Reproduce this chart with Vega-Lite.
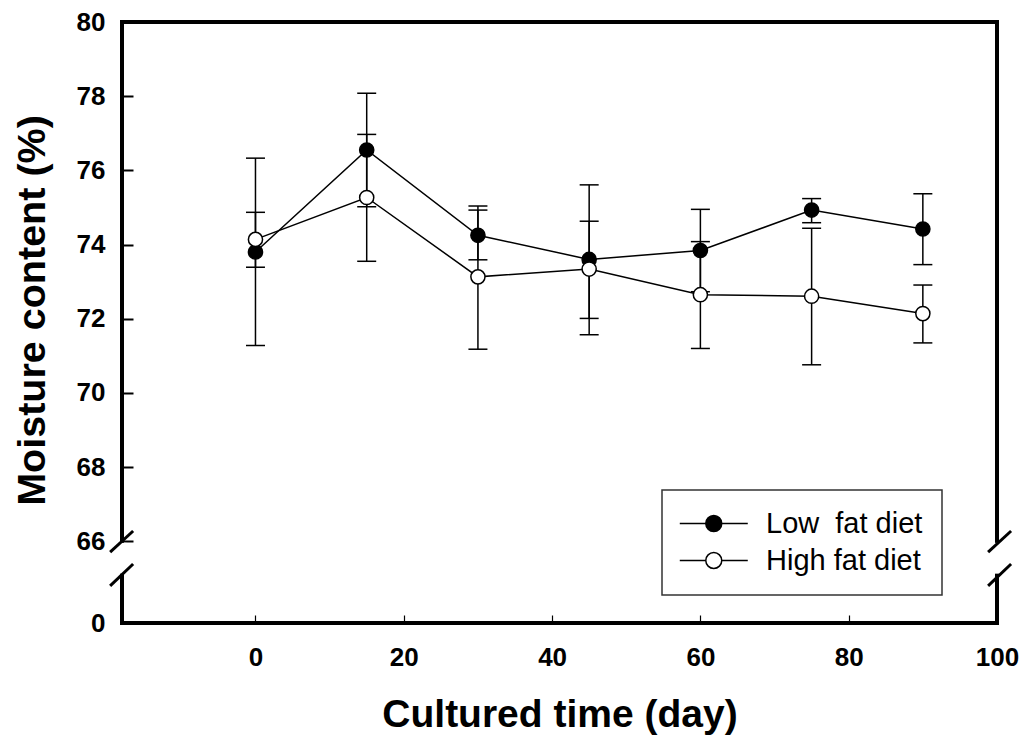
{
  "$schema": "https://vega.github.io/schema/vega-lite/v6.json",
  "autosize": "none",
  "width": 875,
  "height": 601,
  "padding": {"left": 122, "top": 22, "right": 32, "bottom": 117},
  "background": "white",
  "config": {
    "view": {"stroke": "black", "strokeWidth": 4},
    "font": "Liberation Sans",
    "legend": {
      "orient": "none",
      "legendX": 540,
      "legendY": 468,
      "strokeColor": "#333333",
      "strokeWidth": 1.5,
      "padding": 19,
      "fillColor": "white",
      "labelFont": "Liberation Sans",
      "labelFontSize": 29,
      "labelColor": "black",
      "labelOffset": 56,
      "symbolType": "M-1.85,0H1.21M3.09,0H6.15M1.21,0A0.94,0.94 0 1,0 3.09,0A0.94,0.94 0 1,0 1.21,0Z",
      "symbolSize": 289,
      "symbolStrokeColor": "black",
      "symbolStrokeWidth": 1.5,
      "rowPadding": 7
    }
  },
  "data": {
    "values": [
      {"day": 0, "diet": "Low\u00a0 fat diet", "mean": 73.80, "lo": 71.28, "hi": 76.33},
      {"day": 15, "diet": "Low\u00a0 fat diet", "mean": 76.55, "lo": 75.02, "hi": 78.08},
      {"day": 30, "diet": "Low\u00a0 fat diet", "mean": 74.25, "lo": 73.59, "hi": 74.93},
      {"day": 45, "diet": "Low\u00a0 fat diet", "mean": 73.60, "lo": 71.57, "hi": 75.61},
      {"day": 60, "diet": "Low\u00a0 fat diet", "mean": 73.84, "lo": 72.73, "hi": 74.95},
      {"day": 75, "diet": "Low\u00a0 fat diet", "mean": 74.93, "lo": 74.59, "hi": 75.24},
      {"day": 90, "diet": "Low\u00a0 fat diet", "mean": 74.42, "lo": 73.46, "hi": 75.37},
      {"day": 0, "diet": "High fat diet", "mean": 74.14, "lo": 73.39, "hi": 74.87},
      {"day": 15, "diet": "High fat diet", "mean": 75.27, "lo": 73.55, "hi": 76.97},
      {"day": 30, "diet": "High fat diet", "mean": 73.13, "lo": 71.18, "hi": 75.04},
      {"day": 45, "diet": "High fat diet", "mean": 73.34, "lo": 72.01, "hi": 74.63},
      {"day": 60, "diet": "High fat diet", "mean": 72.65, "lo": 71.20, "hi": 74.08},
      {"day": 75, "diet": "High fat diet", "mean": 72.61, "lo": 70.76, "hi": 74.44},
      {"day": 90, "diet": "High fat diet", "mean": 72.14, "lo": 71.35, "hi": 72.91}
    ]
  },
  "layer": [
    {
      "encoding": {
        "x": {
          "field": "day",
          "type": "quantitative",
          "scale": {"domain": [-18, 100], "nice": false, "zero": false},
          "axis": {
            "title": "Cultured time (day)",
            "titleFont": "Liberation Sans",
            "titleFontSize": 39,
            "titleFontWeight": "bold",
            "titleColor": "black",
            "titlePadding": 25,
            "values": [0, 20, 40, 60, 80, 100],
            "domain": false,
            "grid": false,
            "tickSize": -8,
            "tickWidth": 1.2,
            "tickColor": "black",
            "labelPadding": 29,
            "labelFont": "Liberation Sans",
            "labelFontSize": 26,
            "labelFontWeight": "bold",
            "labelColor": "black",
            "labelFlush": false
          }
        },
        "y": {
          "field": "mean",
          "type": "quantitative",
          "scale": {"domain": [63.8, 80], "nice": false, "zero": false},
          "axis": {
            "title": "Moisture content (%)",
            "titleFont": "Liberation Sans",
            "titleFontSize": 39.5,
            "titleFontWeight": "bold",
            "titleColor": "black",
            "titlePadding": 24,
            "titleY": 288,
            "values": [63.8, 66, 68, 70, 72, 74, 76, 78, 80],
            "labelExpr": "datum.value < 65 ? '0' : datum.label",
            "domain": false,
            "grid": false,
            "tickSize": -11,
            "tickWidth": 2,
            "tickColor": "black",
            "labelPadding": 28,
            "labelFont": "Liberation Sans",
            "labelFontSize": 26,
            "labelFontWeight": "bold",
            "labelColor": "black",
            "labelFlush": false
          }
        }
      },
      "layer": [
        {
          "mark": {"type": "rule", "color": "black", "strokeWidth": 1.5},
          "encoding": {"y": {"field": "lo", "type": "quantitative"}, "y2": {"field": "hi"}}
        },
        {
          "mark": {"type": "tick", "orient": "horizontal", "color": "black", "size": 19, "thickness": 1.5, "opacity": 1},
          "encoding": {"y": {"field": "lo", "type": "quantitative"}}
        },
        {
          "mark": {"type": "tick", "orient": "horizontal", "color": "black", "size": 19, "thickness": 1.5, "opacity": 1},
          "encoding": {"y": {"field": "hi", "type": "quantitative"}}
        },
        {
          "mark": {"type": "line", "color": "black", "strokeWidth": 1.5},
          "encoding": {"detail": {"field": "diet"}}
        },
        {
          "mark": {"type": "point", "filled": true, "shape": "circle", "size": 200, "stroke": "black", "strokeWidth": 1.5, "opacity": 1},
          "encoding": {
            "fill": {
              "field": "diet",
              "type": "nominal",
              "scale": {"domain": ["Low\u00a0 fat diet", "High fat diet"], "range": ["black", "white"]},
              "legend": {"title": null}
            }
          }
        }
      ]
    },
    {
      "data": {"values": [{}]},
      "mark": {"type": "rule", "color": "white", "strokeWidth": 9},
      "encoding": {
        "x": {"datum": -18, "type": "quantitative"},
        "y": {"datum": 65.96, "type": "quantitative"},
        "y2": {"datum": 65.13}
      }
    },
    {
      "data": {"values": [{}]},
      "mark": {"type": "rule", "color": "white", "strokeWidth": 9},
      "encoding": {
        "x": {"datum": 100, "type": "quantitative"},
        "y": {"datum": 65.96, "type": "quantitative"},
        "y2": {"datum": 65.13}
      }
    },
    {
      "data": {"values": [{}]},
      "mark": {"type": "rule", "color": "black", "strokeWidth": 3},
      "encoding": {
        "x": {"datum": -19.6, "type": "quantitative"},
        "x2": {"datum": -16.5},
        "y": {"datum": 65.71, "type": "quantitative"},
        "y2": {"datum": 66.28}
      }
    },
    {
      "data": {"values": [{}]},
      "mark": {"type": "rule", "color": "black", "strokeWidth": 3},
      "encoding": {
        "x": {"datum": -19.6, "type": "quantitative"},
        "x2": {"datum": -16.5},
        "y": {"datum": 64.80, "type": "quantitative"},
        "y2": {"datum": 65.39}
      }
    },
    {
      "data": {"values": [{}]},
      "mark": {"type": "rule", "color": "black", "strokeWidth": 3},
      "encoding": {
        "x": {"datum": 98.8, "type": "quantitative"},
        "x2": {"datum": 101.9},
        "y": {"datum": 65.71, "type": "quantitative"},
        "y2": {"datum": 66.28}
      }
    },
    {
      "data": {"values": [{}]},
      "mark": {"type": "rule", "color": "black", "strokeWidth": 3},
      "encoding": {
        "x": {"datum": 98.8, "type": "quantitative"},
        "x2": {"datum": 101.9},
        "y": {"datum": 64.80, "type": "quantitative"},
        "y2": {"datum": 65.39}
      }
    }
  ]
}
